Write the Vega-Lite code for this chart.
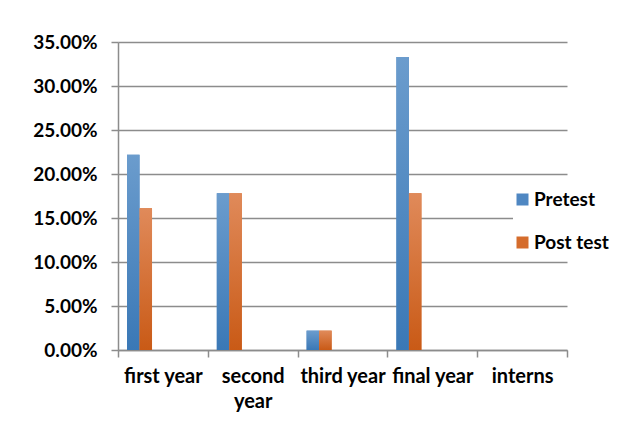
{
  "$schema": "https://vega.github.io/schema/vega-lite/v6.json",
  "autosize": "none",
  "width": 449,
  "height": 308,
  "padding": {"left": 118, "top": 42, "right": 66, "bottom": 71},
  "background": "white",
  "data": {
    "values": [
      {"year": "first year", "test": "Pretest", "pct": 0.222},
      {"year": "first year", "test": "Post test", "pct": 0.161},
      {"year": "second year", "test": "Pretest", "pct": 0.178},
      {"year": "second year", "test": "Post test", "pct": 0.178},
      {"year": "third year", "test": "Pretest", "pct": 0.022},
      {"year": "third year", "test": "Post test", "pct": 0.022},
      {"year": "final year", "test": "Pretest", "pct": 0.333},
      {"year": "final year", "test": "Post test", "pct": 0.178},
      {"year": "interns", "test": "Pretest", "pct": 0},
      {"year": "interns", "test": "Post test", "pct": 0}
    ]
  },
  "encoding": {
    "x": {
      "field": "year",
      "type": "nominal",
      "sort": ["first year", "second year", "third year", "final year", "interns"],
      "scale": {"paddingInner": 0, "paddingOuter": 0},
      "axis": {
        "title": null,
        "labelAngle": 0,
        "tickBand": "extent",
        "tickSize": 7,
        "tickColor": "#8c8c8c",
        "tickWidth": 1.5,
        "domainColor": "#8c8c8c",
        "domainWidth": 1.5,
        "labelFont": "Lato",
        "labelFontWeight": "bold",
        "labelFontSize": 20,
        "labelColor": "#000000",
        "labelPadding": 9,
        "labelOverlap": false,
        "labelLimit": 0,
        "labelBound": false,
        "labelLineHeight": 25,
        "labelExpr": "datum.label == 'second year' ? ['second', 'year'] : datum.label",
        "grid": false
      }
    },
    "xOffset": {
      "field": "test",
      "type": "nominal",
      "scale": {"domain": ["Pretest", "Post test", "_a", "_b", "_c", "_d"], "paddingInner": 0, "paddingOuter": 0.59, "align": 0.61}
    },
    "y": {
      "field": "pct",
      "type": "quantitative",
      "scale": {"domain": [0, 0.35], "nice": false},
      "axis": {
        "title": null,
        "values": [0, 0.05, 0.1, 0.15, 0.2, 0.25, 0.3, 0.35],
        "format": ".2%",
        "grid": true,
        "gridColor": "#8c8c8c",
        "gridWidth": 1.5,
        "gridOpacity": 1,
        "tickSize": 7,
        "tickColor": "#8c8c8c",
        "tickWidth": 1.5,
        "domainColor": "#8c8c8c",
        "domainWidth": 1.5,
        "labelFont": "Lato",
        "labelFontWeight": "bold",
        "labelFontSize": 19,
        "labelColor": "#000000",
        "labelPadding": 14
      }
    }
  },
  "layer": [
    {
      "mark": {"type": "bar"},
      "encoding": {
        "color": {
          "field": "test",
          "type": "nominal",
          "scale": {"domain": ["Pretest", "Post test"], "range": ["#4f87c2", "#d56c2c"]},
          "legend": {
            "title": null,
            "orient": "none",
            "legendX": 395,
            "legendY": 148,
            "padding": 0,
            "symbolType": "square",
            "symbolSize": 144,
            "symbolStrokeWidth": 0,
            "symbolOpacity": 1,
            "labelFont": "Lato",
            "labelFontWeight": "bold",
            "labelFontSize": 19,
            "labelColor": "#000000",
            "labelOffset": 2,
            "rowPadding": 23,
            "fillColor": "white"
          }
        }
      }
    },
    {
      "transform": [{"filter": "datum.test == 'Pretest'"}],
      "mark": {
        "type": "bar",
        "color": {"gradient": "linear", "x1": 0, "y1": 0, "x2": 0, "y2": 1, "stops": [{"offset": 0, "color": "#6b9ccd"}, {"offset": 1, "color": "#3a78b6"}]}
      }
    },
    {
      "transform": [{"filter": "datum.test == 'Post test'"}],
      "mark": {
        "type": "bar",
        "color": {"gradient": "linear", "x1": 0, "y1": 0, "x2": 0, "y2": 1, "stops": [{"offset": 0, "color": "#e08a5a"}, {"offset": 1, "color": "#c95a16"}]}
      }
    }
  ],
  "config": {
    "view": {"stroke": null}
  }
}
